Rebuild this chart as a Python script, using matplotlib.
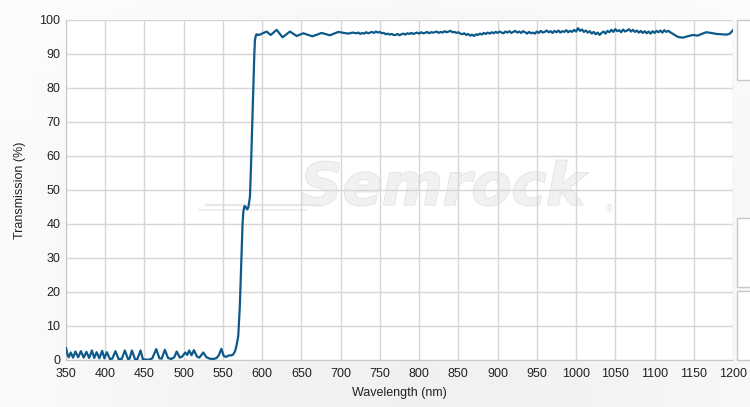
import numpy as np
import matplotlib
matplotlib.use("Agg")
import matplotlib.pyplot as plt
from matplotlib.patches import Rectangle
import matplotlib.patheffects as pe

plt.rcParams['font.family'] = ['Liberation Sans', 'DejaVu Sans']

# ---- data ----
wl_low = [350, 352, 353.5, 356, 359, 362, 365.5, 369, 372.5, 376, 379.5, 383, 386, 389, 392.5,
          396, 399, 402, 406, 409, 413, 417, 421, 425, 429, 431, 434, 438, 441, 445, 448, 452,
          456, 460, 465, 469, 472, 476, 480, 484, 488, 491, 495, 498, 502, 504.5, 507, 510, 513,
          517, 520, 525, 529, 533, 538, 542, 545, 548, 551, 554, 557, 561, 563, 565.5]
t_low = [3.5, 1.5, 0.8, 2.2, 0.7, 2.5, 0.8, 2.6, 0.7, 2.4, 0.6, 2.8, 0.6, 2.3, 0.5,
         2.7, 0.5, 2.3, 0.3, 0.4, 2.6, 0.3, 0.3, 2.8, 0.3, 0.4, 2.8, 0.2, 0.3, 2.8, 0.2, 0.1,
         0.1, 0.5, 3.2, 0.5, 0.4, 3.0, 0.6, 0.3, 0.8, 2.5, 0.7, 1.0, 2.2, 1.5, 2.8, 1.4, 2.9,
         1.0, 0.7, 2.2, 0.8, 0.4, 0.3, 0.6, 1.5, 3.3, 1.2, 0.9, 1.3, 1.4, 1.6, 2.6]

wl_edge = [567.5, 569.5, 571.5, 573.7, 575, 576, 577.5, 579, 581, 582.5, 584.4, 585.5, 586.5,
           588.7, 590, 590.8, 592, 593, 595, 597]
t_edge = [4.5, 7.0, 15.7, 31.4, 40.0, 43.6, 45.3, 45.0, 44.3, 45.0, 48.0, 55.0, 62.7,
          80.4, 90.0, 94.1, 95.5, 95.8, 95.6, 95.7]

wl_ripple = [600, 605.7, 610.8, 618.5, 626, 635.4, 644, 652.4, 664, 675.8, 686.4, 697, 704,
             710, 715]
t_ripple = [96.0, 96.6, 95.6, 97.1, 94.9, 96.6, 95.3, 96.1, 95.2, 96.2, 95.5, 96.5, 96.2,
            96.0, 96.3]

wl_noisy_start, wl_noisy_step = 720, 2.5
t_noisy = [
    96.1, 96.3, 95.9, 96.2, 96.0, 96.4, 96.1, 96.3, 96.5, 96.2,
    96.6, 96.3, 96.5, 96.1, 96.2, 95.8, 96.0, 95.7, 95.9, 95.6,
    95.6, 95.9, 95.5, 95.8, 96.0, 95.7, 96.1, 95.9, 96.2, 95.9,
    96.1, 96.3, 96.0, 96.4, 96.1, 96.2, 96.5, 96.1, 96.4, 96.3,
    96.4, 96.6, 96.2, 96.5, 96.3, 96.7, 96.4, 96.6, 96.8, 96.4,
    96.5, 96.2, 96.4, 96.0, 95.8, 96.1, 95.6, 95.9, 95.4, 95.7,
    95.3, 95.8, 95.6, 96.0, 95.7, 96.2, 95.9, 96.3, 96.0, 96.4,
    96.1, 96.5, 96.2, 96.6, 96.3, 96.1, 96.6, 96.3, 96.7, 96.2,
    96.5, 96.8, 96.3, 96.6, 96.2, 96.7, 96.4, 96.0, 96.5, 96.1,
    96.3, 96.0, 96.6, 96.2, 96.8, 96.3, 96.5, 96.9, 96.4, 96.7,
    96.2, 96.8, 96.4, 96.9, 96.3, 96.7, 96.5, 97.0, 96.4, 96.8,
    96.5, 97.1, 96.6, 97.6, 96.8, 97.2, 96.5, 96.9, 96.3, 96.7,
    96.0, 96.5, 95.8, 96.3, 95.6, 96.2, 96.6, 96.0, 96.8, 96.4,
    97.1, 96.5, 97.3, 96.7, 97.0, 96.4, 97.2, 96.6, 96.9, 97.3,
    96.6, 97.1, 96.5, 96.9, 96.3, 96.8, 96.2, 96.7, 96.1, 96.6,
    96.0, 96.7, 96.2, 96.8, 96.4, 96.9, 96.3, 97.0, 96.5, 96.8,
    96.4]

wl_tail = [1125, 1130, 1136, 1142, 1149, 1155, 1160, 1166, 1172, 1179, 1186, 1192, 1196, 1200]
t_tail = [95.7, 95.0, 94.8, 95.2, 95.6, 95.4, 95.9, 96.4, 96.2, 95.9, 95.8, 95.7, 96.0, 97.0]

x_ticks = list(range(350, 1201, 50))
y_ticks = list(range(0, 101, 10))

# ---- assemble ----
wl_noisy = [wl_noisy_start + i * wl_noisy_step for i in range(len(t_noisy))]
wl = np.array(wl_low + wl_edge + wl_ripple + wl_noisy + wl_tail, dtype=float)
tr = np.array(t_low + t_edge + t_ripple + t_noisy + t_tail, dtype=float)

W, H = 750, 407
fig = plt.figure(figsize=(W / 100, H / 100), dpi=100)

# background gradient
bg = fig.add_axes([0, 0, 1, 1], zorder=-10)
grad = np.linspace(0, 1, 200)
g = np.outer(np.ones(50), grad)
vals = 0.985 - 0.04 * np.sin(np.pi * g * 0.9)
bg.imshow(np.dstack([vals, vals, vals]), aspect='auto', extent=[0, 1, 0, 1])
v2 = np.linspace(0, 1, 100)[:, None] * np.ones((1, 10))
bg.imshow(np.dstack([np.ones_like(v2)] * 3 + [0.6 * (1 - v2) ** 3]), aspect='auto',
          extent=[0, 1, 0, 1], origin='upper')
bg.set_xlim(0, 1); bg.set_ylim(0, 1)
bg.axis('off')

# right-side panel boxes
for (y0, y1) in [(20, 80), (218, 287), (291, 360)]:
    bg.add_patch(Rectangle((737 / W, 1 - y1 / H), 20 / W, (y1 - y0) / H,
                           facecolor='white', edgecolor='#c8c8c8', lw=1.0,
                           transform=bg.transAxes))

ax = fig.add_axes([66 / W, 1 - 360 / H, (733 - 66) / W, (360 - 20) / H])
ax.set_facecolor('white')

# watermark
ax.text(0.565, 0.505, 'Semrock', transform=ax.transAxes, fontsize=42, fontweight='bold',
        style='italic', color='#f1f1f1', ha='center', va='center', zorder=0.5,
        family=['DejaVu Sans'],
        path_effects=[pe.withStroke(linewidth=1.2, foreground='#e2e2e2')])
ax.plot([0.21, 0.38], [0.455, 0.455], transform=ax.transAxes, color='#e6e6e6', lw=1.5, zorder=0.5)
ax.plot([0.2, 0.36], [0.44, 0.44], transform=ax.transAxes, color='#ececec', lw=1.2, zorder=0.5)
ax.text(0.815, 0.445, '®', transform=ax.transAxes, fontsize=7, color='#e2e2e2',
        ha='center', va='center', zorder=0.5)

ax.plot(wl, tr, color='#0d5a8a', lw=1.6, zorder=3, solid_joinstyle='round')

ax.set_xlim(350, 1200)
ax.set_ylim(0, 100)
ax.set_xticks(x_ticks)
ax.set_yticks(y_ticks)
ax.grid(True, color='#d6d6d6', lw=1.0, zorder=1)
ax.set_axisbelow(True)
ax.tick_params(length=0, labelsize=9, colors='#222222')
ax.tick_params(axis='x', pad=6)
ax.tick_params(axis='y', pad=4)
for s in ['top', 'right']:
    ax.spines[s].set_visible(False)
for s in ['left', 'bottom']:
    ax.spines[s].set_color('#c8c8c8')
ax.set_xlabel('Wavelength (nm)', fontsize=9, color='#222222', labelpad=5)
ax.set_ylabel('Transmission (%)', fontsize=9, color='#222222', labelpad=10)

fig.savefig('out.png', dpi=100)
